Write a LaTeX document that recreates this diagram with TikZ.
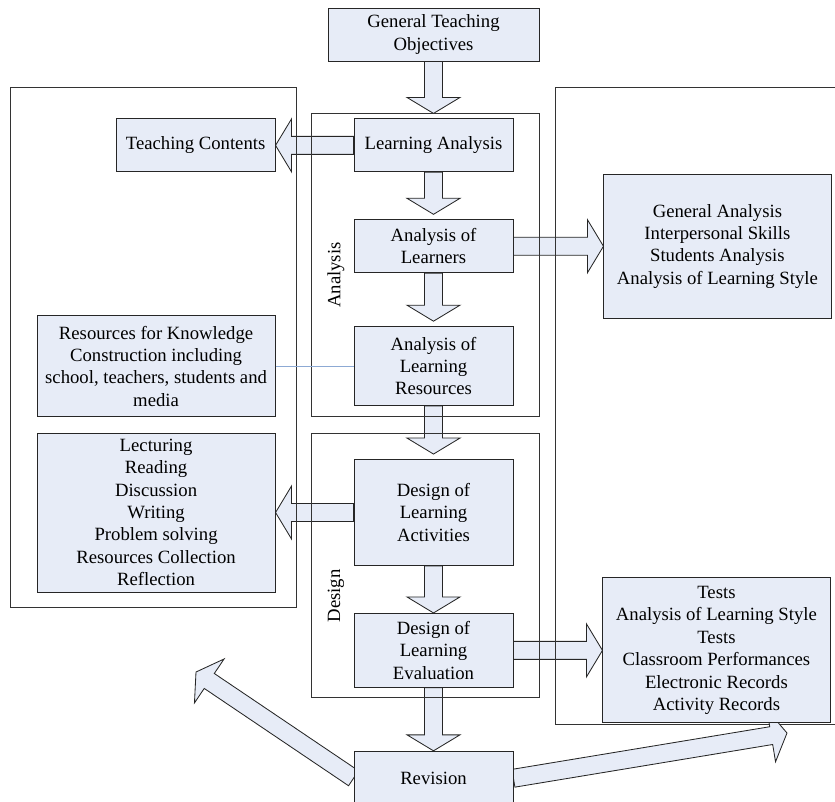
\documentclass[tikz,border=0pt]{standalone}
\usepackage{fontspec}
\setmainfont{Liberation Serif}
\usetikzlibrary{positioning,calc}
\definecolor{boxfill}{RGB}{231,236,247}
\definecolor{linkblue}{RGB}{141,170,212}
\tikzstyle{box} = [rectangle, draw=black!85, fill=boxfill, line width=0.6pt, inner sep=0pt, text centered, align=center, font=\fontsize{13.3}{15.9}\selectfont]
\tikzstyle{stage} = [box, minimum width=3.975cm, minimum height=1.325cm]
\tikzstyle{frame} = [draw=black!80, line width=0.6pt]
\tikzstyle{fat} = [draw=black!85, fill=boxfill, line width=0.6pt, line join=miter]
\tikzstyle{sidelabel} = [rotate=90, font=\fontsize{13.3}{15.9}\selectfont]
% block arrow from #1 to #2
\newcommand{\blockarrow}[2]{%
  \coordinate (ba-s) at (#1);
  \coordinate (ba-e) at (#2);
  \coordinate (ba-b) at ($(ba-e)!0.4cm!(ba-s)$);
  \draw[fat] ($(ba-s)!0.225cm!90:(ba-e)$) -- ($(ba-b)!0.225cm!90:(ba-e)$)
    -- ($(ba-b)!0.6625cm!90:(ba-e)$) -- (ba-e) -- ($(ba-b)!0.6625cm!-90:(ba-e)$)
    -- ($(ba-b)!0.225cm!-90:(ba-e)$) -- ($(ba-s)!0.225cm!-90:(ba-e)$) -- cycle;}
\pgfdeclarelayer{background}
\pgfsetlayers{background,main}

\begin{document}
\begin{tikzpicture}[x=0.025cm,y=-0.025cm]
\useasboundingbox (0,0) rectangle (835,802);
% middle column
\node (GTO) [box, minimum width=5.275cm, minimum height=1.325cm] at (433.5,34.5) {General Teaching\\Objectives};
\node (LA) [stage, below=1.425cm of GTO] {Learning Analysis};
\node (AoL) [stage, below=1.175cm of LA] {Analysis of\\Learners};
\node (AoLR) [stage, below=1.325cm of AoL, minimum height=1.975cm] {Analysis of\\Learning\\Resources};
\node (DoLA) [stage, below=1.325cm of AoLR, minimum height=2.65cm] {Design of\\Learning\\Activities};
\node (DoLE) [stage, below=1.175cm of DoLA, minimum height=1.85cm] {Design of\\Learning\\Evaluation};
\node (Rev) [stage, below=1.575cm of DoLE, minimum height=1.35cm] {Revision};
% left column
\node (TC) [stage, left=1.95cm of LA] {Teaching Contents};
\node (Res) [box, left=1.95cm of AoLR, minimum width=5.95cm, minimum height=2.525cm] {Resources for Knowledge\\Construction including\\school, teachers, students and\\media};
\node (Lect) [box, left=1.95cm of DoLA, minimum width=5.95cm, minimum height=3.975cm] {Lecturing\\Reading\\Discussion\\Writing\\Problem solving\\Resources Collection\\Reflection};
% right column
\node (GA) [box, right=2.25cm of AoL, minimum width=5.675cm, minimum height=3.6cm] {General Analysis\\Interpersonal Skills\\Students Analysis\\Analysis of Learning Style};
\node (Tests) [box, right=2.225cm of DoLE, minimum width=5.675cm, minimum height=3.625cm] {Tests\\Analysis of Learning Style\\Tests\\Classroom Performances\\Electronic Records\\Activity Records};

\node (anaLabel) [sidelabel] at (336,275) {Analysis};
\node (desLabel) [sidelabel] at (336,596) {Design};

\coordinate (revL) at (196,672);
\coordinate (revR) at (787,733);

\begin{pgfonlayer}{background}
\blockarrow{GTO.south}{$(LA.north)+(0,-5)$}
\blockarrow{LA.south}{$(AoL.north)+(0,-5)$}
\blockarrow{AoL.south}{$(AoLR.north)+(0,-5)$}
\blockarrow{AoLR.south}{$(DoLA.north)+(0,-5)$}
\blockarrow{DoLA.south}{DoLE.north}
\blockarrow{DoLE.south}{Rev.north}
\blockarrow{LA.west}{TC.east}
\blockarrow{DoLA.west}{Lect.east}
\blockarrow{AoL.east}{AoL.east -| GA.west}
\blockarrow{DoLE.east}{DoLE.east -| Tests.west}

\draw[frame] ($(LA.north west)+(-42,-5)$) rectangle ($(AoLR.south east)+(26,10)$);
\draw[frame] ($(DoLA.north west)+(-42,-26)$) rectangle ($(DoLE.south east)+(26,10)$);
\draw[frame] ($(Lect.south west)+(-26,15)$) rectangle ($(TC.north east)+(21,-31)$);
\draw[frame] (840,87) -| (555,724) -- (840,724);

\blockarrow{Rev.west}{revL}
\blockarrow{Rev.east}{revR}
\end{pgfonlayer}

\draw[linkblue, line width=0.6pt] (Res.east) -- (AoLR.west);
\end{tikzpicture}
\end{document}
